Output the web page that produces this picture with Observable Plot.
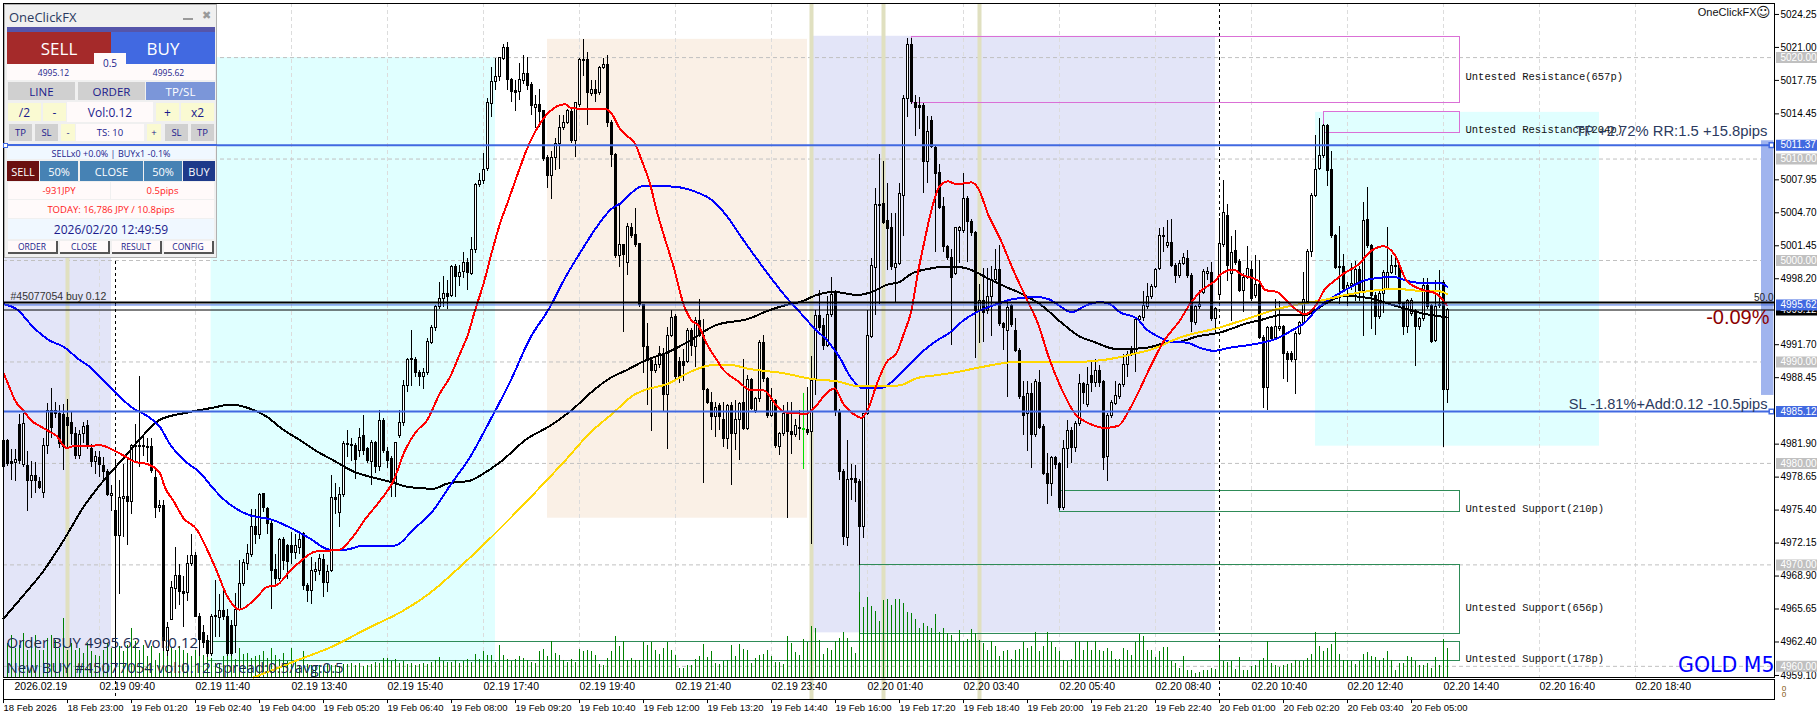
<!DOCTYPE html>
<html><head><meta charset="utf-8">
<script src="https://cdn.jsdelivr.net/npm/d3@7"></script>
<script src="https://cdn.jsdelivr.net/npm/@observablehq/plot@0.6"></script>
<style>
html,body{margin:0;padding:0;background:#fff}
#wrap{position:relative;width:1820px;height:720px;overflow:hidden}
#wrap svg{display:block}
.p{position:absolute;box-sizing:border-box;display:flex;align-items:center;justify-content:center;white-space:nowrap;font-family:"Open Sans","Noto Sans",sans-serif}
</style></head><body><div id="wrap"></div>
<script>
const opens=[
4982.2,4982.2,4980.1,4980.0,4983.8,4979.8,4979.7,4978.3,4978.8,4978.2,
4977.1,4981.7,4985.2,4985.2,4984.9,4984.8,4984.5,4984.0,4982.9,4980.7,
4982.9,4983.7,4981.4,4980.1,4980.5,4979.7,4979.2,4976.8,4975.3,4972.8,
4976.5,4976.7,4976.2,4981.6,4981.6,4981.6,4981.5,4981.6,4978.6,4975.6,
4975.8,4961.5,4964.6,4967.6,4968.9,4967.3,4967.2,4970.1,4970.9,4964.9,
4963.3,4962.5,4961.2,4964.9,4964.8,4965.5,4964.9,4964.0,4964.0,4965.6,
4968.1,4970.1,4971.0,4973.7,4972.9,4977.0,4975.5,4974.0,4969.5,4968.6,
4972.5,4971.9,4971.9,4971.2,4971.7,4973.0,4967.9,4967.4,4969.3,4969.4,
4970.5,4968.2,4969.4,4976.6,4975.1,4976.9,4981.8,4981.7,4981.7,4981.2,
4982.7,4981.4,4980.1,4982.0,4979.6,4984.2,4981.1,4980.4,4978.1,4982.7,
4984.0,4987.6,4990.2,4990.2,4988.9,4988.5,4988.9,4991.9,4993.3,4995.4,
4996.2,4996.7,4996.5,4999.4,4998.4,4998.9,4999.8,4998.7,5001.0,5007.4,
5007.8,5009.0,5015.4,5017.6,5018.1,5019.9,5020.9,5017.8,5016.7,5016.6,
5017.7,5018.4,5017.3,5015.0,5015.3,5014.7,5010.1,5008.3,5010.1,5011.5,
5013.1,5013.6,5014.6,5011.8,5015.3,5019.7,5019.8,5016.4,5016.8,5016.5,
5019.0,5019.3,5013.6,5010.4,5000.4,5001.5,4999.8,5003.2,5002.5,5001.6,
4995.6,4991.5,4990.1,4989.1,4989.7,4990.8,4986.7,4992.6,4994.4,4990.0,
4990.0,4990.0,4993.1,4991.5,4994.0,4992.6,4987.2,4986.0,4984.6,4985.7,
4984.3,4982.4,4985.7,4982.9,4984.3,4986.0,4983.4,4988.2,4985.2,4986.3,
4991.9,4988.3,4984.7,4986.2,4981.6,4982.9,4984.9,4983.1,4982.8,4983.4,
4983.3,4983.3,4983.1,4988.2,4994.5,4993.5,4991.6,4994.6,4996.8,4985.1,
4979.2,4972.6,4978.4,4978.5,4978.2,4973.7,4984.9,4992.5,4999.3,5005.4,
5005.6,5003.9,5003.2,4999.3,4999.7,5006.4,5015.9,5021.2,5015.5,5015.2,
5015.2,5009.7,5013.7,5011.1,5008.6,5005.3,5001.3,5000.2,4998.7,5002.9,
5002.9,5006.1,5003.8,5002.7,4995.0,4996.0,4995.0,4996.4,4998.1,4999.1,
4993.7,4993.1,4995.5,4993.1,4991.1,4986.5,4984.9,4986.8,4982.8,4987.9,
4983.6,4979.0,4978.0,4980.5,4979.9,4975.6,4981.4,4983.2,4981.5,4983.9,
4987.8,4985.8,4988.6,4987.9,4989.1,4988.0,4980.6,4984.7,4985.9,4986.5,
4987.7,4989.7,4991.3,4990.9,4994.1,4994.3,4995.4,4996.4,4997.4,4999.2,
5002.3,5001.4,5001.7,4999.5,4998.5,4999.7,5000.1,4998.5,4993.8,4995.4,
4996.8,4998.7,4998.8,4994.2,4996.6,5001.5,5004.4,4998.7,5000.9,4999.9,
4997.0,4998.3,4999.1,4996.5,4997.6,4992.4,4987.4,4993.3,4992.4,4993.2,
4993.4,4990.8,4990.8,4990.2,4992.8,4993.8,4995.9,5000.8,5006.4,5009.0,
5010.3,5013.3,5008.9,5002.4,4999.3,4999.4,4997.2,4997.5,4997.7,4999.1,
4997.0,5004.0,5001.4,4996.5,4994.4,4996.7,4997.2,4998.8,4999.4,4999.5,
4995.7,4993.4,4994.7,4995.0,4993.4,4994.2,4997.5,4995.5,4992.1,4995.5,
4997.8,4987.2];
const highs=[
4982.4,4982.4,4981.4,4981.4,4984.8,4984.9,4981.2,4980.2,4980.1,4978.6,
4982.5,4985.9,4987.4,4986.0,4985.7,4985.8,4986.3,4985.0,4983.5,4983.2,
4984.0,4984.2,4981.9,4981.2,4981.2,4980.6,4979.4,4977.8,4980.2,4978.3,
4979.9,4980.4,4981.9,4983.8,4988.6,4982.7,4982.5,4982.5,4979.6,4976.3,
4976.3,4964.3,4968.4,4971.7,4970.0,4968.9,4970.9,4973.0,4971.2,4965.2,
4964.0,4963.0,4965.1,4968.5,4967.1,4967.6,4965.6,4964.5,4967.2,4970.4,
4970.5,4972.0,4975.5,4975.5,4977.0,4977.0,4975.7,4974.3,4971.0,4972.6,
4972.7,4972.0,4973.2,4973.0,4973.1,4973.2,4968.2,4970.7,4970.2,4971.0,
4971.0,4969.9,4978.8,4978.0,4977.6,4982.2,4983.2,4982.5,4982.0,4983.4,
4984.7,4981.6,4982.3,4982.2,4985.2,4984.4,4981.6,4980.7,4982.0,4985.2,
4988.2,4990.3,4993.1,4990.4,4989.2,4989.4,4992.3,4993.6,4995.6,4997.8,
4998.4,4998.0,4999.5,4999.6,4999.5,5000.8,5000.2,5002.3,5007.6,5008.6,
5010.5,5016.0,5019.0,5019.9,5020.0,5021.3,5021.5,5017.9,5017.7,5019.4,
5020.2,5020.0,5017.5,5016.3,5016.9,5014.8,5010.3,5010.7,5012.0,5014.3,
5014.3,5014.9,5014.9,5015.6,5019.9,5021.8,5020.5,5017.7,5017.7,5019.1,
5019.9,5020.2,5013.8,5010.5,5005.4,5001.6,5003.6,5003.6,5005.1,5001.7,
4995.7,4993.8,4990.3,4990.5,4991.5,4991.3,4993.4,4995.1,4994.7,4990.4,
4991.2,4993.3,4993.3,4994.4,4996.2,4994.2,4987.4,4987.0,4986.0,4985.9,
4986.0,4985.8,4986.0,4986.2,4986.0,4990.2,4988.7,4988.4,4986.5,4992.1,
4992.6,4988.5,4987.4,4986.3,4983.0,4985.7,4986.0,4986.0,4984.3,4985.2,
4986.9,4987.5,4990.5,4995.1,4997.0,4994.3,4996.5,4998.3,4997.0,4985.3,
4979.4,4982.3,4979.9,4979.8,4978.4,4984.9,4995.1,5000.2,5007.1,5010.4,
5009.8,5007.6,5004.6,5004.6,5007.6,5016.3,5021.9,5021.9,5016.3,5016.1,
5015.5,5014.2,5014.2,5011.3,5009.5,5006.2,5001.5,5001.1,5003.2,5003.4,
5008.6,5006.3,5004.0,5002.9,4997.6,4999.2,4999.2,4999.4,5001.1,5001.5,
4993.9,4995.8,4995.7,4994.3,4991.3,4988.1,4988.1,4987.9,4988.3,4989.2,
4983.8,4981.0,4980.7,4980.7,4980.1,4982.3,4984.2,4983.5,4984.1,4988.8,
4988.0,4989.5,4990.0,4990.2,4989.7,4988.2,4984.9,4986.2,4988.1,4987.9,
4990.7,4991.0,4991.5,4994.4,4994.6,4996.9,4997.7,4997.6,4999.2,5003.2,
5003.3,5003.9,5004.0,4999.7,5000.0,5000.7,5001.0,4998.7,4995.6,4997.0,
4999.1,4999.3,4999.8,4995.4,5004.1,5007.9,5005.5,5002.4,5003.0,5000.1,
4998.7,5001.4,4999.9,5000.5,5000.0,4992.6,4993.5,4993.5,4996.2,4996.0,
4993.6,4991.0,4991.0,4993.0,4994.0,4998.8,5001.1,5006.6,5012.3,5014.0,
5013.4,5013.4,5010.7,5002.6,5003.4,5000.6,4997.8,4999.7,4999.9,4999.4,
5005.7,5007.2,5001.6,4996.8,4996.9,4999.0,5003.3,5000.5,5000.3,4999.7,
4995.9,4996.2,4996.3,4995.2,4994.4,4998.2,4998.2,4995.7,4998.0,4999.0,
4998.0,4995.3];
const lows=[
4979.4,4979.7,4978.3,4978.2,4979.9,4979.6,4975.3,4976.5,4977.0,4977.4,
4976.5,4980.9,4982.5,4984.4,4981.5,4979.3,4981.4,4981.8,4980.4,4980.4,
4982.0,4981.4,4979.6,4978.9,4978.6,4978.2,4976.7,4975.3,4958.9,4967.1,
4972.7,4971.9,4975.0,4980.2,4979.6,4980.7,4980.1,4979.0,4974.6,4975.2,
4961.5,4961.0,4964.5,4965.6,4966.0,4963.8,4966.4,4969.8,4964.9,4961.0,
4961.8,4960.9,4961.0,4962.8,4962.8,4964.5,4961.0,4961.0,4961.3,4965.4,
4967.9,4969.4,4970.7,4972.0,4972.5,4975.2,4973.0,4965.6,4967.9,4968.4,
4969.4,4968.6,4970.0,4970.5,4971.0,4967.5,4966.3,4966.1,4968.4,4969.0,
4966.8,4967.3,4969.2,4975.0,4973.7,4976.6,4980.6,4980.2,4978.4,4980.6,
4980.8,4980.0,4977.8,4979.0,4979.2,4981.0,4979.5,4976.6,4976.6,4982.5,
4983.6,4987.0,4987.6,4988.5,4987.6,4987.3,4988.7,4991.7,4993.0,4995.2,
4995.4,4995.2,4996.4,4996.4,4997.4,4998.2,4997.0,4998.5,5000.7,5007.2,
5007.5,5008.8,5014.1,5016.8,5017.6,5019.7,5016.8,5015.6,5014.7,5015.8,
5017.3,5016.8,5014.3,5013.0,5013.1,5009.8,5007.1,5006.0,5008.9,5009.0,
5012.8,5013.4,5011.5,5010.2,5015.1,5018.1,5013.3,5016.2,5015.6,5016.3,
5018.8,5013.1,5009.2,5000.2,4999.3,4992.9,4998.5,5002.2,5001.3,4995.4,
4988.9,4985.7,4983.1,4988.9,4989.4,4985.0,4981.4,4992.4,4988.2,4987.9,
4988.1,4989.8,4990.5,4989.5,4992.4,4978.0,4985.8,4983.2,4982.6,4983.2,
4981.6,4981.4,4977.8,4981.3,4980.3,4983.2,4983.2,4985.2,4984.9,4986.0,
4988.0,4984.4,4984.5,4981.5,4980.8,4982.7,4974.6,4980.9,4982.6,4982.3,
4979.4,4982.8,4972.0,4986.7,4993.0,4991.1,4991.4,4994.4,4984.6,4978.3,
4971.9,4971.8,4976.3,4976.1,4969.9,4972.6,4984.7,4992.3,4994.6,4995.7,
5003.5,4999.0,4999.0,4995.8,4999.5,5002.4,5014.1,5015.4,5012.2,5012.9,
5006.6,5007.6,5011.0,5000.8,5005.0,5000.8,5000.0,4991.6,4998.5,4999.7,
5002.7,4999.8,5002.4,4990.3,4991.8,4991.9,4994.7,4992.5,4997.9,4993.5,
4991.1,4986.5,4993.4,4990.9,4986.3,4982.8,4981.2,4979.5,4982.6,4983.3,
4978.8,4976.0,4976.7,4979.4,4975.4,4975.4,4979.5,4980.0,4981.1,4983.6,
4985.8,4985.5,4987.0,4987.5,4987.5,4979.3,4978.2,4984.4,4985.7,4986.3,
4987.5,4988.5,4990.5,4989.0,4993.8,4994.0,4995.2,4996.2,4997.2,4999.0,
5000.8,5001.2,4999.3,4997.7,4998.2,4999.5,4998.2,4992.9,4993.6,4995.2,
4996.6,4998.0,4994.0,4992.9,4996.3,5001.3,4997.9,4994.0,4999.5,4996.8,
4994.9,4998.1,4996.0,4996.3,4992.2,4985.4,4985.2,4992.1,4992.2,4993.0,
4988.3,4988.0,4989.9,4986.8,4992.6,4993.6,4995.7,5000.3,5006.2,5008.9,
5010.1,5007.3,5002.2,4999.1,4995.7,4997.0,4995.5,4997.0,4996.0,4996.0,
4992.5,5001.2,4993.2,4992.6,4994.2,4994.8,4997.0,4998.6,4998.5,4995.5,
4992.6,4992.8,4994.5,4989.6,4993.1,4994.0,4995.2,4991.8,4991.9,4995.3,
4981.6,4985.9];
const closes=[
4979.6,4979.9,4979.9,4980.3,4980.2,4983.9,4978.3,4978.8,4978.3,4977.6,
4981.7,4985.2,4983.5,4984.9,4981.9,4981.6,4983.7,4982.9,4980.7,4982.8,
4983.6,4981.7,4980.1,4980.6,4979.8,4979.2,4976.9,4977.0,4972.8,4976.6,
4976.7,4976.2,4981.7,4981.7,4981.7,4981.7,4981.6,4979.3,4975.6,4975.8,
4962.5,4963.8,4967.7,4968.9,4967.3,4967.1,4970.1,4970.9,4964.9,4962.6,
4962.3,4961.2,4964.9,4965.0,4965.5,4964.9,4961.2,4961.2,4965.6,4968.1,
4970.2,4971.1,4973.7,4972.9,4976.9,4975.6,4974.0,4969.4,4968.6,4972.5,
4970.4,4970.3,4971.2,4971.9,4972.5,4967.9,4967.4,4969.4,4969.5,4970.6,
4968.2,4969.3,4976.6,4976.4,4976.9,4981.9,4981.9,4981.8,4980.3,4982.5,
4981.2,4980.2,4982.0,4979.6,4984.2,4981.2,4980.2,4978.1,4982.0,4984.0,
4987.6,4990.2,4990.3,4988.9,4988.5,4988.9,4992.0,4993.3,4995.4,4996.2,
4996.7,4996.4,4999.4,4998.4,4998.8,4999.8,4998.8,5001.0,5007.4,5007.8,
5008.9,5015.5,5017.6,5018.1,5020.0,5020.9,5017.8,5016.6,5016.5,5017.8,
5018.4,5017.2,5015.2,5015.3,5014.6,5010.0,5008.3,5010.1,5011.5,5013.1,
5013.6,5014.7,5011.8,5015.5,5019.8,5019.8,5016.5,5016.8,5016.4,5019.0,
5019.3,5013.6,5010.4,5000.4,5001.5,5000.5,5003.3,5002.4,5001.5,4995.6,
4991.5,4990.1,4989.1,4989.7,4990.8,4986.7,4992.6,4994.3,4988.5,4988.5,
4989.6,4993.1,4991.6,4994.0,4992.6,4987.2,4986.0,4984.6,4985.5,4984.6,
4982.4,4985.7,4982.9,4984.3,4985.9,4983.4,4988.2,4985.4,4986.3,4991.9,
4988.3,4984.7,4986.2,4981.7,4982.9,4984.9,4983.1,4982.8,4983.7,4983.5,
4983.4,4983.0,4988.1,4994.5,4993.3,4991.6,4994.6,4996.6,4985.2,4979.2,
4972.7,4978.4,4978.5,4978.1,4973.7,4984.9,4992.6,4999.5,5005.5,5005.5,
5003.7,5003.1,4999.4,4999.7,5006.6,5015.9,5021.2,5015.6,5015.0,5015.0,
5009.7,5012.7,5011.2,5008.5,5005.2,5001.3,5000.2,4998.3,5003.2,5003.2,
5006.1,5003.8,5002.7,4995.0,4996.0,4994.8,4996.4,4998.1,4999.1,4993.7,
4993.3,4995.3,4993.6,4991.1,4986.5,4984.7,4986.8,4982.8,4988.0,4983.5,
4979.0,4978.0,4980.5,4979.8,4975.6,4981.4,4983.2,4981.5,4983.9,4987.8,
4986.9,4987.7,4987.9,4989.1,4987.9,4980.5,4984.7,4986.0,4986.6,4987.7,
4989.7,4990.7,4990.7,4994.1,4994.4,4995.5,4996.4,4997.4,4999.1,5002.4,
5002.4,5001.7,4999.5,4998.5,4999.7,5000.2,4998.5,4993.9,4995.4,4995.6,
4998.9,4998.9,4994.2,4995.2,5001.6,5004.7,4999.5,5000.7,4999.8,4997.0,
4998.3,4999.2,4996.2,4997.6,4992.4,4987.4,4993.3,4992.3,4993.4,4993.4,
4990.8,4990.2,4990.2,4992.8,4993.8,4996.1,5000.8,5006.4,5008.9,5010.3,
5013.3,5008.8,5002.4,4999.3,4999.4,4997.2,4997.5,4997.7,4999.1,4997.0,
5003.9,5001.4,4996.5,4994.4,4996.7,4998.8,4998.8,4999.5,4999.5,4995.7,
4993.4,4996.0,4996.0,4993.4,4994.2,4997.5,4995.4,4992.0,4995.4,4995.6,
4987.2,4995.1];
const volumes=[
54,34,42,29,32,44,27,37,42,27,27,39,42,37,29,59,27,34,27,29,
24,34,26,22,21,27,34,29,22,31,26,32,49,36,27,32,21,31,17,24,
32,54,29,27,31,27,24,21,27,26,22,20,19,14,14,21,27,29,18,29,
23,24,19,21,22,26,19,29,22,18,24,16,29,15,12,26,13,12,11,12,
11,13,12,12,11,13,13,14,12,14,11,12,13,15,14,19,19,16,18,14,
16,13,14,12,13,14,13,15,17,20,16,15,15,17,14,16,18,15,23,18,
26,22,22,15,32,22,18,16,18,21,19,17,15,14,26,28,21,36,24,22,
17,15,18,15,28,26,27,26,22,13,12,19,26,41,31,36,17,19,17,17,
35,32,35,27,23,29,35,27,22,9,9,12,12,18,21,33,20,26,14,13,
16,17,32,21,33,28,27,14,19,22,23,27,21,15,15,13,41,34,25,22,
38,35,51,49,37,23,29,27,36,39,45,39,30,24,85,70,80,71,66,56,
77,78,72,78,78,74,65,64,58,49,54,51,49,63,45,49,44,42,36,47,
36,38,48,44,37,34,27,36,31,21,26,27,18,27,28,35,29,31,45,26,
31,45,35,30,26,17,16,18,35,36,27,36,27,36,27,26,29,26,18,18,
29,27,22,35,43,41,27,27,20,26,30,30,16,14,9,21,7,7,4,5,
7,7,9,8,29,16,15,16,8,20,7,7,11,12,17,19,36,14,12,10,
12,13,14,17,16,16,19,23,45,31,26,29,33,45,23,17,17,16,13,16,
23,25,21,20,17,19,26,17,7,14,14,21,20,16,12,12,14,9,20,12,38,29];

// moving averages: bar position and price
const redBars=[0,1.5,2.9,5,7,9,11.2,13.3,15.8,17.5,21.2,24.1,27.5,30.8,32.5,36.2,39,40.4,42.5,45,48.3,50.8,53.3,55.8,59,63.3,65.8,68.3,71.6,74.1,77.9,84,86.6,90.8,94.1,97.5,100.4,103.3,105.8,109.1,111.6,114.1,116.2,117.9,120,122,124.1,126.2,128.7,131.2,133.5,136.6,140.4,142,150.8,152,154.1,155.8,157.9,159.5,161.6,163.3,165,167.5,170,172,173.7,175.8,178.3,180,183.3,187,190,193.7,195.8,200.8,202,206.6,207.8,209.9,212.4,214.5,216.2,218.3,220.8,223.3,225,227,228.7,230.4,232,234,236.2,238.3,242,243.7,246.2,249.1,252.5,255.8,258.7,261.2,264.1,267.9,271.6,275.4,278.7,281.2,283.7,286.7,290,294.1,296.6,300,302.9,304.5,307.5,309.6,313.8,315.4,318.3,321.6,325.4,328.3,330.4,332.1,335,338.7,342.1,345,347.9,350.8,354.1,358.3,360.8];
const redPrices=[4988.9,4987.5,4986.2,4985.2,4984.2,4983.7,4983.2,4982.7,4981.5,4981.7,4981.7,4981.8,4981.3,4980.6,4980.2,4979.9,4979.1,4977.6,4976.3,4974.6,4973.5,4971.6,4969.4,4967,4965.6,4966.8,4967.8,4968,4969.4,4970.3,4971.3,4971.5,4972.4,4974.7,4976.3,4978.3,4981.3,4983.2,4984.2,4986.9,4988.5,4990.8,4992.8,4995.1,4997.7,5000.7,5003.6,5005.9,5008.7,5011.3,5013.1,5014.7,5015.4,5015,5014.9,5014.5,5013,5012.3,5011.5,5009.9,5007.6,5004.9,5002.6,4999.4,4995.7,4994.1,4993.6,4991.8,4990.2,4989.2,4988.2,4987.2,4987.2,4985.5,4985,4984.9,4985.2,4987.2,4987.4,4985.9,4984.9,4984.5,4985.4,4987.8,4990,4990.9,4992.7,4995.1,4999,5002.2,5005,5007.3,5007.8,5007.5,5007.7,5007.1,5004.5,5002.2,4999,4996.2,4993.7,4990.6,4987.7,4984.9,4983.9,4983.5,4983.7,4985.1,4987,4989.5,4992,4994.1,4995.7,4997.2,4998,4998.7,4999.1,4998.6,4998,4997.1,4996.9,4995.7,4994.7,4995.7,4997.2,4997.8,4998.7,4999.6,5001,5001.4,5000.5,4998,4997.2,4996.7,4995.6];
const blueBars=[0,3.3,7.5,11.6,15,19,21.6,24.1,27.9,32.5,35.8,39.1,41.6,45.8,49.1,52.5,55.8,60.8,67.5,72.5,76.6,81.6,85.4,90,97.9,102.5,107.5,111.6,116.6,121.6,126.6,131.6,136.6,140,145,148.3,152,154.5,157.4,159.5,166.6,174.1,176.6,180.4,185,189,193.6,196.5,199.1,202.5,206.6,209.1,211.6,215,219.1,222.9,225.8,230,232.9,236.6,240,243.3,248.3,252.5,258.3,261.2,264.1,267,270.8,274.1,276.6,279.1,283.3,285.8,288.7,291.6,295.8,299.1,302.5,306.6,313.3,318.3,322.5,325.4,328.3,330.8,334.1,337.4,339.9,344.1,347.4,350.8,354.1,359.1,361];
const bluePrices=[4995.7,4995.2,4993.4,4992.1,4991.5,4990.2,4989.5,4988.5,4987,4985.4,4984.7,4983.6,4981.9,4980.1,4979.1,4977.5,4976.2,4975,4974.4,4973.5,4972.6,4971.5,4971.5,4971.9,4971.9,4973.5,4975.4,4977.8,4980.6,4984.2,4988,4992.3,4995.4,4998,5001.3,5003.3,5005.1,5005.7,5006.8,5007.3,5007.3,5006.6,5006.1,5004.6,5002,4999.8,4997.4,4996,4994.9,4993.4,4991.8,4990.4,4988.6,4987.4,4987.4,4988.3,4989.5,4991.1,4992,4992.9,4994.1,4994.9,4995.7,4996.2,4996.4,4996.2,4995.5,4994.9,4995.6,4995.9,4995.7,4994.9,4994.3,4993.2,4992.5,4992,4991.9,4991.4,4991.1,4991.4,4991.8,4992.3,4993.2,4993.9,4995.2,4996,4996.8,4997.5,4998,4998.3,4998.4,4998,4997.8,4997.8,4997.4];
const blackBars=[0,5,10,15,20,25,30,35,39.1,45.8,52.5,56.6,61.6,65.8,70,74.1,78.3,82.5,87.5,92.5,97.5,100.8,107.5,110.8,116.6,120,124.1,130.8,136.6,142.5,146.6,151.6,155.8,160.8,165.8,171.6,177.9,186.6,190.8,196.5,199.1,203.3,207.5,213.7,217,220.8,224.1,227,231.6,235.8,240,242.9,245.8,250,254.1,259.1,265,269.1,272.5,277.9,281.6,285.8,290.8,294.1,298.3,304.1,310.8,314.9,319.1,325.4,328.3,331.6,335,341.6,345.8,350.8,355.8,360.8];
const blackPrices=[4964.7,4967,4969.4,4972.4,4975.7,4978.3,4980.5,4982.8,4984.3,4985,4985.5,4985.8,4985.4,4984.6,4983.3,4982.3,4981.2,4980.3,4979.2,4978.6,4978.1,4977.7,4977.5,4978,4978.3,4979,4980.1,4982.4,4983.7,4985.4,4986.9,4988.4,4989.2,4990.2,4990.9,4992.1,4993.6,4994.3,4995,4995.7,4995.9,4996.6,4996.9,4996.6,4996.9,4997.6,4997.9,4998.7,4999.2,4999.4,4999.3,4998.9,4998.3,4997.5,4996.8,4995.7,4993.7,4992.5,4992,4991.3,4991.3,4991.4,4991.9,4992,4992.5,4992.9,4993.8,4994.2,4994.6,4994.6,4995.2,4996,4996.5,4996.3,4995.8,4995.2,4994.7,4994.4];
const goldBars=[62.5,74.1,82.5,90.8,100,107.5,111.6,126.2,133.3,140,146.6,152.5,157.4,160.8,165.8,171.6,177.4,181.6,186.6,194.9,202.4,208.2,214,219.9,224.1,228.3,233.3,238.3,243.3,253.3,267.4,278.2,282.5,287.5,291,294.1,304.1,312,318.3,324.1,329.9,335.6,341.6,348.1,354.9,358.3,361];
const goldPrices=[4958.9,4960.7,4962,4963.7,4965.5,4967.5,4968.9,4974.4,4977.3,4980.1,4983,4985,4986.7,4987.3,4987.8,4989,4989.7,4989.7,4989.3,4988.9,4988.3,4988.1,4987.6,4987.6,4987.7,4988.4,4988.7,4989,4989.4,4990,4990,4990.4,4990.8,4991.3,4991.9,4992.4,4993.4,4994.4,4995.2,4995.7,4996.1,4996.6,4997,4997.2,4997,4997,4996.7];

const yTicks=[5024.25,5021,5017.75,5014.45,5007.95,5004.7,5001.45,4998.2,4991.7,4988.45,4981.9,4978.65,4975.4,4972.15,4968.9,4965.65,4962.4,4959.1];
const roundLevels=[5020,5010,5000,4990,4980,4970,4960];
const gridBars=[24,48,72,96,120,144,168,192,216,240,264,288,312,336,360,384,408];
const topBars=[2.75,24,48,72,96,120,144,168,192,216,240,264,288,312,336,360,384,408];
const topLabels=["2026.02.19","02.19 09:40","02.19 11:40","02.19 13:40","02.19 15:40","02.19 17:40","02.19 19:40","02.19 21:40","02.19 23:40","02.20 01:40","02.20 03:40","02.20 05:40","02.20 08:40","02.20 10:40","02.20 12:40","02.20 14:40","02.20 16:40","02.20 18:40"];
const botBars=[0,16,32,48,64,80,96,112,128,144,160,176,192,208,224,240,256,272,288,304,320,336,352];
const botLabels=["18 Feb 2026","18 Feb 23:00","19 Feb 01:20","19 Feb 02:40","19 Feb 04:00","19 Feb 05:20","19 Feb 06:40","19 Feb 08:00","19 Feb 09:20","19 Feb 10:40","19 Feb 12:00","19 Feb 13:20","19 Feb 14:40","19 Feb 16:00","19 Feb 17:20","19 Feb 18:40","19 Feb 20:00","19 Feb 21:20","19 Feb 22:40","20 Feb 01:00","20 Feb 02:20","20 Feb 03:40","20 Feb 05:00"];
const dayBars=[28,304];
const beigeBarsTall=[202,220,244];
const beigeBarsShort=[16];

const bgZones=[
 {a:0,b:27,p1:5000.2,p2:4958.9,fill:"#e3e5f8"},
 {a:51.9,b:123,p1:5020,p2:4960.3,fill:"#e0ffff"},
 {a:136,b:201,p1:5021.8,p2:4974.6,fill:"#faf0e6"},
 {a:202.4,b:303,p1:5022.1,p2:4963.3,fill:"#e3e5f8"},
 {a:328,b:399,p1:5014.6,p2:4981.7,fill:"#e0ffff"}];
const srZones=[
 {a:227,b:364,p1:5022.04,p2:5015.53,c:"#da70d6"},
 {a:330,b:364,p1:5014.59,p2:5012.55,c:"#da70d6"},
 {a:264,b:364,p1:4977.33,p2:4975.26,c:"#2e8b57"},
 {a:214,b:364,p1:4969.94,p2:4963.23,c:"#2e8b57"},
 {a:51,b:364,p1:4962.35,p2:4960.57,c:"#2e8b57"}];
const srTexts=[["Untested Resistance(657p)",5018.1],["Untested Resistance(204p)",5012.9],["Untested Support(210p)",4975.5],["Untested Support(656p)",4965.8],["Untested Support(178p)",4960.8]];

const bars=opens.map((o,i)=>({k:i,o,h:highs[i],l:lows[i],c:closes[i],v:volumes[i]}));
const FLOOR=4958.9, PANEL_BOTTOM=4956.73, TICK_BOTTOM=4956.33, VOL_PER_PRICE=10.145;
const BLUE="#4169e1", INK="#1c2b50";
const zip=(a,b)=>a.map((k,i)=>({k,p:b[i]}));
const ma=(a,b,stroke)=>Plot.line(zip(a,b),{x:"k",y:"p",stroke,strokeWidth:2,curve:"monotone-x",shapeRendering:"crispEdges"});
const ann=(text,p,o)=>Plot.text([text],{y:()=>p,text:d=>d,...o});
const tagged=(levels,bg,fg)=>[
 Plot.ruleY(levels,{stroke:bg,strokeWidth:11,insetLeft:1773,insetRight:-43}),
 Plot.text(levels,{y:d=>d,text:d=>d.toFixed(2),frameAnchor:"right",dx:6,textAnchor:"start",fill:fg,fontSize:10})];
const bull=bars.filter(d=>d.c>=d.o&&d.k!==200), bear=bars.filter(d=>d.c<d.o&&d.k!==200), odd=bars.filter(d=>d.k===200);

const chart=Plot.plot({
 width:1820,height:720,marginLeft:3,marginRight:46,marginTop:3,marginBottom:43,
 style:{fontFamily:"'Liberation Sans',sans-serif",fontSize:"10px",background:"transparent",color:"#000"},
 x:{type:"linear",domain:[0,442.75],axis:null},
 y:{type:"linear",domain:[FLOOR,5025.33],axis:null},
 marks:[
  ...bgZones.map(z=>Plot.rect([z],{x1:"a",x2:"b",y1:"p1",y2:"p2",fill:z.fill})),
  Plot.ruleX(gridBars,{x:d=>d,stroke:"#dcdcdc",strokeDasharray:"4,3"}),
  Plot.ruleY(roundLevels,{y:d=>d,stroke:"#c0c0c0",strokeDasharray:"4,3"}),
  Plot.ruleX(beigeBarsTall,{x:d=>d,y1:5025.33,y2:PANEL_BOTTOM,stroke:"#e0e0c0",strokeWidth:4}),
  Plot.ruleX(beigeBarsShort,{x:d=>d,y1:5000.2,y2:FLOOR,stroke:"#e0e0c0",strokeWidth:4}),
  ...srZones.map(z=>Plot.rect([z],{x1:"a",x2:"b",y1:"p1",y2:"p2",fill:"none",stroke:z.c,shapeRendering:"crispEdges"})),
  Plot.ruleX(dayBars,{x:d=>d,y1:5025.33,y2:PANEL_BOTTOM,stroke:"#000",strokeDasharray:"3,3"}),
  Plot.ruleX(bars,{x:"k",y1:()=>FLOOR,y2:d=>FLOOR+d.v/VOL_PER_PRICE,stroke:"#008000",strokeWidth:1}),
  Plot.ruleX(bars.filter(d=>d.k!==200),{x:"k",y1:"l",y2:"h",stroke:"#000",shapeRendering:"crispEdges"}),
  Plot.ruleX(odd,{x:"k",y1:"l",y2:"h",stroke:"#00e000"}),
  Plot.rect(bull,{x1:d=>d.k-0.25,x2:d=>d.k+0.25,y1:"o",y2:"c",dx:0.5,fill:"#fff",stroke:"#000",shapeRendering:"crispEdges"}),
  Plot.rect(bear,{x1:d=>d.k-0.25,x2:d=>d.k+0.25,y1:"o",y2:"c",dx:0.5,fill:"#000",stroke:"#000",shapeRendering:"crispEdges"}),
  Plot.rect(odd,{x1:d=>d.k-0.25,x2:d=>d.k+0.25,y1:"o",y2:"c",dx:0.5,fill:"#00e000",stroke:"#00e000",shapeRendering:"crispEdges"}),
  Plot.rect([{a:439.5,b:442.6,p1:5011.8,p2:4986.7}],{x1:"a",x2:"b",y1:"p1",y2:"p2",fill:"#a0b4ee"}),
  ma(blackBars,blackPrices,"#000"),ma(blueBars,bluePrices,"#0000ff"),ma(goldBars,goldPrices,"#ffd700"),ma(redBars,redPrices,"#ff0000"),
  Plot.ruleY([5011.37,4985.12],{y:d=>d,stroke:BLUE,strokeWidth:2}),
  Plot.ruleY([4995.85],{y:d=>d,stroke:"#000",strokeWidth:2}),
  Plot.ruleY([4995.62],{y:d=>d,stroke:BLUE}),
  Plot.ruleY([4995.12],{y:d=>d,stroke:"#000"}),
  Plot.dot([5011.37,4985.12],{y:d=>d,frameAnchor:"right",dx:-3,symbol:"square",r:2.6,fill:"#fff",stroke:BLUE}),
  Plot.frame({stroke:"#000"}),
  Plot.axisY({anchor:"right",ticks:yTicks,tickFormat:d=>d.toFixed(2),tickSize:4,tickPadding:2,fontSize:10,label:null}),
  ...tagged(roundLevels,"#c0c0c0","#fff"),
  ...tagged([4995.12],"#000","#fff"),
  ...tagged([5011.37,4995.62,4985.12],BLUE,"#fff"),
  Plot.axisX({anchor:"bottom",ticks:topBars,tickFormat:d=>topLabels[topBars.indexOf(d)],tickSize:0,tickPadding:5,textAnchor:"start",fontSize:10.5,label:null}),
  Plot.ruleX(botBars,{x:d=>d,y1:PANEL_BOTTOM,y2:TICK_BOTTOM,stroke:"#000"}),
  Plot.axisX({anchor:"bottom",ticks:botBars,tickFormat:d=>botLabels[botBars.indexOf(d)],tickSize:0,tickPadding:27,textAnchor:"start",fontSize:9.5,label:null}),
  ...srTexts.map(([t,p])=>ann(t,p,{x:()=>365.5,textAnchor:"start",fontFamily:"'Liberation Mono',monospace",fontSize:10.5,fill:"#111"})),
  ann("TP +2.72% RR:1.5 +15.8pips",5012.7,{frameAnchor:"right",dx:-7,textAnchor:"end",fontSize:14.8,fill:"#2b3a60"}),
  ann("SL -1.81%+Add:0.12 -10.5pips",4985.8,{frameAnchor:"right",dx:-7,textAnchor:"end",fontSize:14.6,fill:"#2b3a60"}),
  ann("-0.09%",4994.4,{frameAnchor:"right",dx:-5,textAnchor:"end",fontSize:20,fill:"#8b0000"}),
  ann("50.0",4996.35,{frameAnchor:"right",dx:-1,textAnchor:"end",fontSize:10,fill:"#222"}),
  ann("#45077054 buy 0.12",4996.4,{frameAnchor:"left",dx:7,textAnchor:"start",fontSize:10.5,fill:"#333"}),
  ann("Order BUY 4995.62 vol:0.12",4962.3,{frameAnchor:"left",dx:3,textAnchor:"start",fontFamily:"'Open Sans',sans-serif",fontSize:15,fontWeight:500,fill:INK}),
  ann("New BUY #45077054 vol:0.12 Spread:0.5/avg:0.5",4959.8,{frameAnchor:"left",dx:3,textAnchor:"start",fontFamily:"'Open Sans',sans-serif",fontSize:15,fontWeight:500,fill:INK}),
  ann("GOLD M5",4960.1,{frameAnchor:"right",textAnchor:"end",fontFamily:"'DejaVu Sans',sans-serif",fontSize:20.5,fill:"#0000ff"}),
  ann("OneClickFX",5024.45,{frameAnchor:"right",dx:-18,textAnchor:"end",fontFamily:"'Liberation Sans',sans-serif",fontSize:11,fill:"#111"}),
  ann("☺",5024.45,{frameAnchor:"right",dx:-4,textAnchor:"end",fontFamily:"'DejaVu Sans',sans-serif",fontSize:14,fill:"#111"})
 ]});
const wrap=document.getElementById("wrap");
wrap.appendChild(chart);

// time-axis strip and small zero labels
const box=document.createElement("div");
box.style.cssText="position:absolute;left:3px;top:679px;width:1772px;height:21px;border:1px solid #000;box-sizing:border-box;pointer-events:none";
wrap.appendChild(box);

// order panel
const NAVY="#1a1a8c",GR="#d0d0d0",CR="#fafad2",WH="#fffafa",AL="#f0f8ff",ST="#4682b4";
const panel=[
 [4,4,217,258,"","#f0f0f0","#000",10],
 [7,27,215,32,"","#5555aa","#fff",10],
 [7,32,111,64,"SELL","#a52a2a","#fff",17],
 [111,32,215,64,"BUY",BLUE,"#fff",17],
 [7,64,215,80,"",WH,"#000",10],
 [7,64,100,80,"4995.12",WH,NAVY,8.5],
 [122,64,215,80,"4995.62",WH,NAVY,8.5],
 [94,53,126,72,"0.5",WH,NAVY,10],
 [8,82,75,100,"LINE",GR,NAVY,11.5],
 [78,82,145,100,"ORDER",GR,NAVY,11.5],
 [146,82,215,100,"TP/SL","#7b96d9","#fff",11.5],
 [8,103,41,121,"/2",CR,NAVY,12],
 [43,103,66,121,"-",CR,NAVY,12],
 [67,102,153,122,"Vol:0.12",WH,NAVY,12],
 [156,103,179,121,"+",CR,NAVY,12],
 [181,103,214,121,"x2",CR,NAVY,12],
 [9,124,32,141,"TP",GR,NAVY,9.5],
 [35,124,58,141,"SL",GR,NAVY,9.5],
 [61,124,75,141,"-",CR,NAVY,9.5],
 [76,124,144,141,"TS: 10",WH,NAVY,9.5],
 [147,124,161,141,"+",CR,NAVY,9.5],
 [165,124,188,141,"SL",GR,NAVY,9.5],
 [191,124,214,141,"TP",GR,NAVY,9.5],
 [7,147,215,159,"SELLx0 +0.0% | BUYx1 -0.1%",AL,NAVY,9],
 [7,161,39,181,"SELL","#6b1010","#fff",11],
 [40,161,78,181,"50%",ST,"#fff",11],
 [80,161,143,181,"CLOSE",ST,"#fff",11],
 [144,161,182,181,"50%",ST,"#fff",11],
 [183,161,215,181,"BUY","#1e3a8a","#fff",11],
 [8,182,110,199,"-931JPY",WH,"#ff2020",9.5],
 [111,182,214,199,"0.5pips",WH,"#ff2020",9.5],
 [8,200,214,218,"TODAY: 16,786 JPY / 10.8pips",WH,"#ff2020",9.5],
 [8,219,214,239,"2026/02/20  12:49:59",AL,NAVY,12],
 [8,241,58,254,"ORDER",WH,NAVY,8.5],
 [60,241,110,254,"CLOSE",WH,NAVY,8.5],
 [112,241,162,254,"RESULT",WH,NAVY,8.5],
 [164,241,214,254,"CONFIG",WH,NAVY,8.5]
];
const addDiv=(x1,y1,x2,y2,t,bg,fg,fs,extra="")=>{const d=document.createElement("div");d.className="p";
 d.style.cssText=`left:${x1}px;top:${y1}px;width:${x2-x1}px;height:${y2-y1}px;background:${bg};color:${fg};font-size:${fs}px;${extra}`;d.textContent=t;wrap.appendChild(d);return d;};
panel.forEach((r,i)=>{let e="";
 if(i===0)e="border:1px solid #b0b0b0;";
 if(i>=33)e="border-right:2px solid #555;border-bottom:2px solid #555;";
 addDiv(...r,e);});
addDiv(9,8,120,26,"OneClickFX","transparent","#2b3a60",13,"justify-content:flex-start;");
addDiv(183,18,193,20,"","#9a9a9a","#000",8);
addDiv(201,9,211,19,"✖","transparent","#9a9a9a",11);
addDiv(4,144,217,146,"",BLUE,"#000",8);
addDiv(3,143,8,148,"","#fff","#000",8,`border:1px solid ${BLUE};`);
addDiv(1778,685,1790,690,"0","transparent","#7a4a00",8);
addDiv(1778,690,1790,696,"0","transparent","#7a4a00",8);
</script></body></html>
